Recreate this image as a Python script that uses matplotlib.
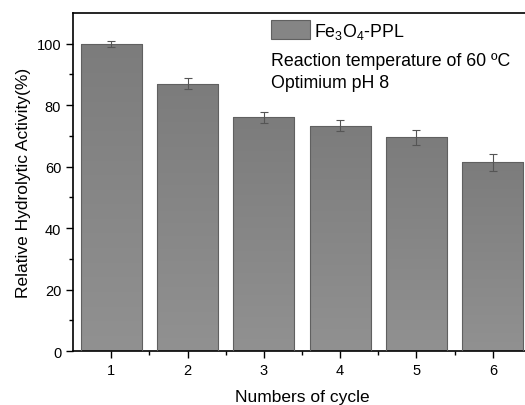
import numpy as np
import matplotlib.pyplot as plt
from matplotlib.colors import LinearSegmentedColormap
from matplotlib.patches import Patch

plt.rcParams['font.family'] = ['Liberation Sans', 'DejaVu Sans']
plt.rcParams['mathtext.fontset'] = 'custom'
plt.rcParams['mathtext.rm'] = 'Liberation Sans'

cycles = [1, 2, 3, 4, 5, 6]
activity = [100.0, 87.0, 76.0, 73.3, 69.6, 61.4]
errors = [1.0, 1.8, 1.8, 1.8, 2.4, 2.8]

fig = plt.figure(figsize=(5.25, 4.06), dpi=100)
ax = fig.add_axes([73/525, 1 - 352/406, (531 - 73)/525, (352 - 14)/406])

bars = ax.bar(cycles, activity, width=0.8, color='#858585',
              edgecolor='#606060', linewidth=0.8, zorder=2)
ax.errorbar(cycles, activity, yerr=errors, fmt='none', ecolor='#555555',
            elinewidth=0.8, capsize=3, capthick=0.8, zorder=4)

# vertical gray gradient inside each bar
cmap = LinearSegmentedColormap.from_list('g', ['#919191', '#7c7c7c'])
grad = np.linspace(0, 1, 256).reshape(-1, 1)
for b in bars:
    x0, w, h = b.get_x(), b.get_width(), b.get_height()
    im = ax.imshow(grad, cmap=cmap, extent=[x0, x0 + w, 0, h],
                   origin='lower', aspect='auto', zorder=2.5)
    im.set_clip_path(b)
    b.set_facecolor('none')
    b.set_zorder(3)

ax.set_xlim(0.5, 6.5)
ax.set_ylim(0, 110)
ax.set_xticks(cycles)
ax.set_xticks(np.arange(1.5, 6.5, 1), minor=True)
ax.set_yticks([0, 20, 40, 60, 80, 100])
ax.set_yticks([10, 30, 50, 70, 90], minor=True)
ax.tick_params(direction='out', length=5, width=1, labelsize=10.5)
ax.tick_params(which='minor', direction='out', length=3, width=1)
for s in ['top', 'right']:
    ax.spines[s].set_visible(False)
ax.spines['left'].set_linewidth(1.2)
ax.spines['bottom'].set_linewidth(1.2)
ax.plot([0.5, 6.5], [110, 110], color='black', lw=1.2, clip_on=False, zorder=5)

ax.set_xlabel('Numbers of cycle', fontsize=12.5, labelpad=9)
ax.set_ylabel('Relative Hydrolytic Activity(%)', fontsize=12.5, labelpad=4)

handle = Patch(facecolor='#858585', edgecolor='#606060', linewidth=0.8)
leg = ax.legend([handle], [r'$\mathrm{Fe_3O_4}$-PPL'], loc='upper left',
                bbox_to_anchor=((271 - 73)/458, (352 - 21)/338), frameon=False,
                fontsize=12.8, handlelength=2.2, handleheight=1.3,
                handletextpad=0.2, borderpad=0, borderaxespad=0)
fig.text(271/525, 1 - 61/406, 'Reaction temperature of 60 ºC', fontsize=12.8,
         va='center')
fig.text(271/525, 1 - 83/406, 'Optimium pH 8', fontsize=12.8, va='center')

fig.savefig('out.png', dpi=100)
